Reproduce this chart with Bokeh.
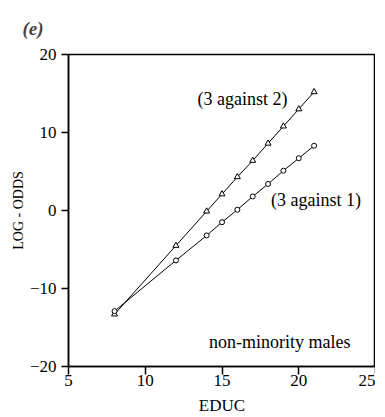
from bokeh.plotting import figure
from bokeh.models import Range1d, FixedTicker, Label
from bokeh.embed import file_html
from bokeh.resources import INLINE

educ = [8, 12, 14, 15, 16, 17, 18, 19, 20, 21]
logodds_3v1 = [-12.9, -6.4, -3.2, -1.5, 0.1, 1.8, 3.4, 5.1, 6.7, 8.3]
logodds_3v2 = [-13.3, -4.5, -0.1, 2.1, 4.3, 6.4, 8.6, 10.8, 13.0, 15.2]
x_ticks = [5, 10, 15, 20, 25]
y_ticks = [-20, -10, 0, 10, 20]

FONT = "Liberation Serif"

p = figure(width=375, height=420, output_backend="svg", toolbar_location=None,
           x_range=Range1d(5, 25), y_range=Range1d(-20, 20),
           min_border_left=68, min_border_right=0, min_border_top=52, min_border_bottom=54,
           title="(e)")
p.title.text_font = FONT
p.title.text_font_size = "19px"
p.title.text_font_style = "bold italic"
p.title.align = "left"
p.title.offset = -46
p.title.standoff = 31

p.xgrid.visible = False
p.ygrid.visible = False
p.outline_line_color = "black"
p.outline_line_width = 1.5
p.background_fill_color = "white"
p.border_fill_color = "white"

for ax in (p.xaxis[0], p.yaxis[0]):
    ax.axis_line_color = "black"
    ax.axis_line_width = 1.5
    ax.major_tick_line_color = "black"
    ax.major_tick_line_width = 1.5
    ax.major_tick_in = 0
    ax.minor_tick_line_color = None
    ax.major_label_text_font = FONT
    ax.major_label_text_font_size = "17px"
    ax.major_label_text_font_style = "normal"
    ax.major_label_text_color = "black"
    ax.axis_label_text_font = FONT
    ax.axis_label_text_font_style = "normal"
    ax.axis_label_text_color = "black"

p.xaxis.major_tick_out = 8
p.yaxis.major_tick_out = 7
p.xaxis.major_label_standoff = 0
p.yaxis.major_label_standoff = 5
p.xaxis.ticker = FixedTicker(ticks=x_ticks)
p.yaxis.ticker = FixedTicker(ticks=y_ticks)
p.xaxis.axis_label = "EDUC"
p.yaxis.axis_label = "LOG - ODDS"
p.xaxis.axis_label_text_font_size = "17px"
p.yaxis.axis_label_text_font_size = "14px"
p.xaxis.axis_label_standoff = 7
p.yaxis.axis_label_standoff = 1

p.line(educ, logodds_3v2, line_color="black", line_width=1)
p.scatter(educ, logodds_3v2, marker="triangle", size=6, fill_color="white",
          line_color="black", line_width=1)
p.line(educ, logodds_3v1, line_color="black", line_width=1)
p.scatter(educ, logodds_3v1, marker="circle", size=5, fill_color="white",
          line_color="black", line_width=1)

labels = ["(3 against 2)", "(3 against 1)", "non-minority males"]
label_x = [13.4, 18.2, 14.15]
label_y = [14.3, 1.3, -16.8]
for txt, x, y in zip(labels, label_x, label_y):
    p.add_layout(Label(x=x, y=y, text=txt, text_font=FONT, text_font_size="18px",
                       text_font_style="normal",
                       text_baseline="middle", text_align="left", text_color="black"))

open("out.html", "w").write(file_html(p, INLINE))
